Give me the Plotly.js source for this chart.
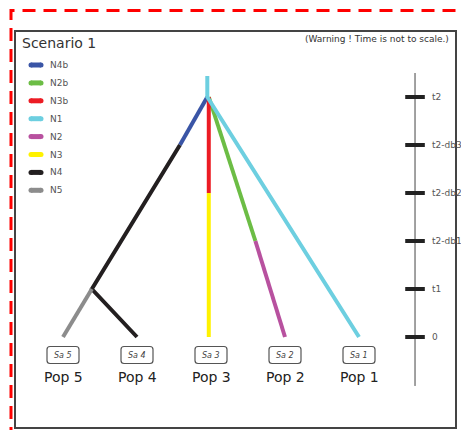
<!DOCTYPE html>
<html>
<head>
<meta charset="utf-8">
<script src="https://cdn.plot.ly/plotly-3.0.1.min.js"></script>
<style>html,body{margin:0;padding:0;background:#fff;}#chart{width:461px;height:430px;}</style>
</head>
<body>
<div id="chart"></div>
<script>
// ---- data ----
const popLabels = ['Pop 5', 'Pop 4', 'Pop 3', 'Pop 2', 'Pop 1'];
const popIndex = [0, 1, 2, 3, 4];
const sampleLabels = ['Sa 5', 'Sa 4', 'Sa 3', 'Sa 2', 'Sa 1'];
const timeLabels = ['0', 't1', 't2-db1', 't2-db2', 't2-db3', 't2'];
const timeValues = [0, 1, 2, 3, 4, 5];

const branchNames = ['N4b', 'N2b', 'N3b', 'N1', 'N2', 'N3', 'N4', 'N5'];
const branchColors = ['#3a55a6', '#6cbd45', '#ec1c24', '#6dcfe0', '#b8519f', '#fff200', '#231f20', '#8c8c8c'];
// branch paths: x in population index units, y in time units
const branchX = [
  [1.95, 1.58],        // N4b
  [1.97, 2.60],        // N2b
  [1.97, 1.97],        // N3b
  [1.95, 1.95, 4],     // N1
  [2.60, 3],           // N2
  [1.97, 1.97],        // N3
  [1.58, 0.39, 1],     // N4
  [0.39, 0]            // N5
];
const branchY = [
  [5, 4],
  [5, 2],
  [5, 3],
  [5.44, 5, 0],
  [2, 0],
  [3, 0],
  [4, 1, 0],
  [1, 0]
];
const drawOrder = [0, 1, 2, 4, 5, 6, 7, 3];

// ---- helpers for pixel placement ----
const W = 461, H = 430;
const px = v => v / W;
const py = v => 1 - v / H;

const traces = [];
drawOrder.forEach(i => {
  traces.push({
    type: 'scatter', mode: 'lines', name: branchNames[i],
    x: branchX[i], y: branchY[i],
    line: {color: branchColors[i], width: 4},
    showlegend: false, hoverinfo: 'name'
  });
});

// time axis
const axisX = 4.757;
traces.push({
  type: 'scatter', mode: 'lines', x: [axisX, axisX], y: [5.5, -1.02],
  line: {color: '#444', width: 1}, showlegend: false, hoverinfo: 'skip'
});
traces.push({
  type: 'scatter', mode: 'markers', x: timeValues.map(() => axisX), y: timeValues,
  marker: {symbol: 'line-ew', size: 14, line: {color: '#222', width: 4}},
  showlegend: false, hoverinfo: 'skip'
});

const annotations = [];
const shapes = [];

// time labels
timeValues.forEach((t, i) => {
  annotations.push({
    x: axisX, y: t, xref: 'x', yref: 'y', xshift: 15, xanchor: 'left', yanchor: 'middle',
    text: timeLabels[i], showarrow: false, font: {size: 9, color: '#555'}
  });
});

// sample boxes and pop labels
const boxPath = 'M -13,-8.5 L 13,-8.5 Q 16,-8.5 16,-5.5 L 16,5.5 Q 16,8.5 13,8.5 L -13,8.5 Q -16,8.5 -16,5.5 L -16,-5.5 Q -16,-8.5 -13,-8.5 Z';
popIndex.forEach((p, i) => {
  shapes.push({
    type: 'path', xref: 'x', yref: 'paper', xsizemode: 'pixel', ysizemode: 'pixel',
    xanchor: p, yanchor: py(355), path: boxPath,
    line: {color: '#555', width: 1.2}, fillcolor: '#fff', layer: 'above'
  });
  annotations.push({
    x: p, y: py(355.5), xref: 'x', yref: 'paper', xanchor: 'center', yanchor: 'middle',
    text: sampleLabels[i], showarrow: false, font: {size: 8, color: '#444', style: 'italic'}
  });
  annotations.push({
    x: p, y: py(377), xref: 'x', yref: 'paper', xanchor: 'center', yanchor: 'middle',
    text: popLabels[i], showarrow: false, font: {size: 14, color: '#222'}
  });
});

// custom legend
branchNames.forEach((n, i) => {
  const yy = 65 + 17.9 * i;
  shapes.push({
    type: 'line', xref: 'paper', yref: 'paper', x0: px(31), x1: px(41), y0: py(yy), y1: py(yy),
    line: {color: branchColors[i], width: 5}
  });
  shapes.push({
    type: 'circle', xref: 'paper', yref: 'paper', x0: px(28.5), x1: px(33.5), y0: py(yy - 2.5), y1: py(yy + 2.5),
    fillcolor: branchColors[i], line: {width: 0}
  });
  shapes.push({
    type: 'circle', xref: 'paper', yref: 'paper', x0: px(38.5), x1: px(43.5), y0: py(yy - 2.5), y1: py(yy + 2.5),
    fillcolor: branchColors[i], line: {width: 0}
  });
  annotations.push({
    x: px(48), y: py(yy), xref: 'paper', yref: 'paper', xanchor: 'left', yanchor: 'middle',
    text: n, showarrow: false, font: {size: 9, color: '#555'}
  });
});

// warning note
annotations.push({
  x: px(451), y: py(39), xref: 'paper', yref: 'paper', xanchor: 'right', yanchor: 'middle',
  text: '(Warning ! Time is not to scale.)', showarrow: false, font: {size: 9, color: '#333'}
});

// inner frame
shapes.push({
  type: 'rect', xref: 'paper', yref: 'paper', x0: px(15), x1: px(456), y0: py(428), y1: py(31),
  line: {color: '#444', width: 2}, fillcolor: 'rgba(0,0,0,0)', layer: 'above'
});
// outer red dashed frame
shapes.push({
  type: 'path', xref: 'paper', yref: 'paper',
  path: 'M ' + px(11) + ',' + py(440) + ' L ' + px(11) + ',' + py(10.5) + ' L ' + px(470) + ',' + py(10.5),
  line: {color: '#ff0000', width: 3, dash: '13px,8px'}, layer: 'above'
});

const layout = {
  width: W, height: H,
  margin: {l: 0, r: 0, t: 0, b: 0},
  paper_bgcolor: '#fff', plot_bgcolor: '#fff',
  font: {family: 'DejaVu Sans, sans-serif', color: '#333'},
  title: {
    text: 'Scenario 1', x: px(22), xanchor: 'left', xref: 'paper',
    y: py(43), yanchor: 'middle', yref: 'container',
    font: {size: 14, color: '#333', family: 'DejaVu Sans, sans-serif'}
  },
  xaxis: {range: [-63 / 74, (461 - 63) / 74], visible: false, fixedrange: true},
  yaxis: {range: [(337 - 430) / 48, 337 / 48], visible: false, fixedrange: true},
  showlegend: false,
  shapes: shapes,
  annotations: annotations
};

Plotly.newPlot('chart', traces, layout, {displayModeBar: false, staticPlot: true});
</script>
</body>
</html>
